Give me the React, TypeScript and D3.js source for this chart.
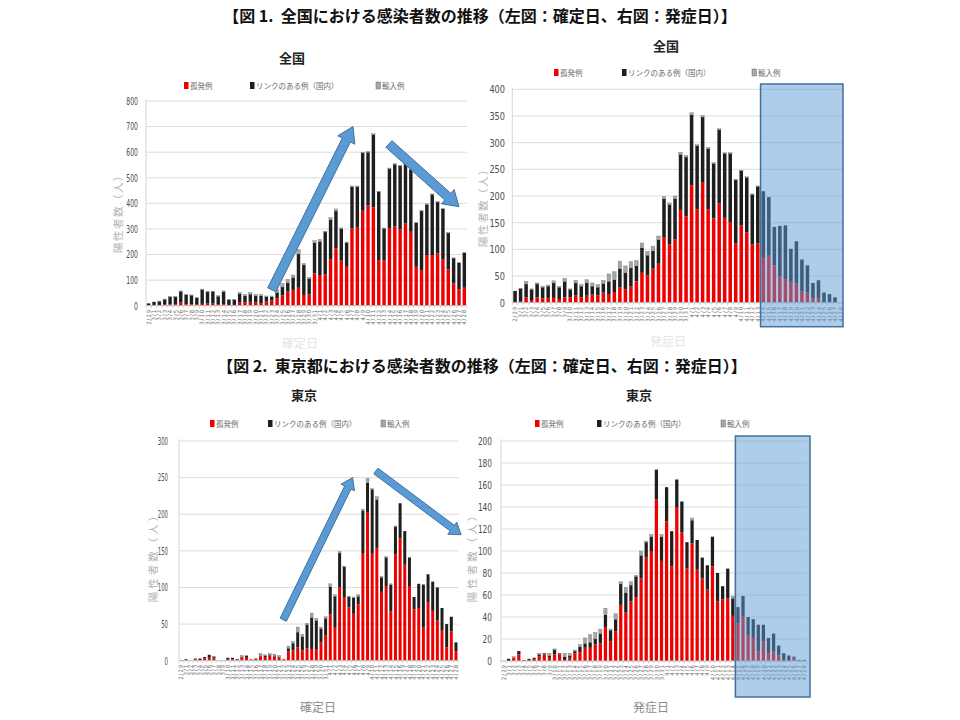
import React from 'react';
import * as d3 from 'd3';

// Data: 2/29 - 4/28 (60 days)

const dates: string[] = d3.timeDay
    .range(new Date(2020, 1, 29), new Date(2020, 3, 29))
    .map(d3.timeFormat('%-m/%-d'));

const seriesNames = ['孤発例', 'リンクのある例（国内）', '輸入例'];
const seriesColors = ['#EE0000', '#1E1E1E', '#A6A6A6'];

// 全国・確定日
const zenkokuKakuteiSolo = [2, 3, 3, 4, 5, 5, 14, 5, 5, 4, 7, 8, 8, 4, 6, 3, 3, 14, 12, 15, 12, 10, 16, 20, 28, 40, 55, 62, 70, 42, 44, 126, 120, 122, 182, 224, 176, 152, 302, 305, 371, 393, 384, 178, 178, 302, 309, 298, 321, 289, 152, 139, 198, 198, 204, 182, 142, 87, 64, 70];
const zenkokuKakuteiLinked = [7, 12, 14, 21, 29, 29, 42, 38, 36, 27, 56, 47, 48, 33, 49, 21, 21, 33, 27, 30, 26, 29, 19, 15, 24, 33, 34, 48, 132, 117, 62, 120, 131, 166, 154, 146, 125, 95, 163, 160, 226, 207, 285, 267, 124, 234, 244, 248, 232, 242, 172, 231, 198, 237, 201, 197, 142, 99, 104, 137];
const zenkokuKakuteiImport = [0, 0, 1, 1, 1, 1, 2, 1, 1, 1, 2, 2, 1, 2, 3, 1, 1, 5, 5, 6, 6, 5, 3, 3, 12, 14, 14, 10, 18, 6, 4, 8, 8, 3, 8, 8, 3, 2, 3, 3, 3, 3, 3, 2, 2, 2, 2, 2, 2, 2, 2, 2, 2, 2, 2, 2, 1, 1, 1, 1];

// 全国・発症日
const zenkokuHasshoSolo = [0, 2, 10, 5, 10, 8, 9, 9, 7, 10, 10, 14, 10, 13, 15, 14, 19, 15, 20, 29, 25, 31, 40, 56, 51, 64, 73, 123, 109, 119, 174, 162, 220, 175, 225, 175, 158, 186, 159, 151, 111, 145, 132, 109, 111, 84, 88, 70, 49, 44, 39, 36, 21, 19, 8, 9, 0, 0, 0, 0];
const zenkokuHasshoLinked = [22, 24, 25, 20, 25, 21, 22, 28, 22, 30, 15, 23, 21, 24, 16, 15, 17, 25, 23, 35, 31, 34, 29, 47, 38, 33, 45, 72, 75, 76, 104, 111, 132, 119, 123, 114, 103, 138, 121, 129, 119, 102, 103, 94, 107, 125, 110, 72, 95, 101, 62, 79, 60, 51, 29, 33, 19, 16, 10, 0];
const zenkokuHasshoImport = [0, 1, 5, 1, 2, 2, 2, 4, 2, 6, 1, 5, 3, 6, 6, 5, 6, 14, 15, 14, 13, 12, 10, 9, 7, 9, 7, 4, 3, 5, 4, 3, 4, 2, 3, 2, 2, 2, 1, 1, 1, 1, 1, 1, 1, 0, 0, 0, 0, 0, 0, 0, 0, 0, 0, 0, 0, 0, 0, 0];

// 東京・確定日
const tokyoKakuteiSolo = [1, 1, 0, 2, 1, 3, 4, 3, 0, 0, 2, 2, 1, 4, 5, 2, 2, 6, 5, 7, 6, 4, 2, 13, 14, 18, 14, 17, 16, 15, 25, 35, 63, 46, 100, 86, 73, 64, 77, 147, 202, 146, 154, 94, 102, 67, 145, 167, 131, 102, 70, 72, 45, 80, 68, 55, 41, 18, 40, 13];
const tokyoKakuteiLinked = [0, 1, 0, 1, 2, 2, 4, 2, 0, 0, 2, 2, 1, 1, 2, 0, 1, 1, 2, 1, 1, 1, 0, 4, 10, 21, 19, 32, 43, 40, 19, 23, 38, 42, 47, 42, 14, 22, 11, 58, 41, 88, 66, 20, 39, 37, 38, 48, 46, 39, 17, 33, 59, 38, 40, 45, 31, 32, 20, 12];
const tokyoKakuteiImport = [0, 0, 0, 0, 0, 0, 0, 1, 0, 0, 0, 0, 0, 2, 0, 0, 0, 3, 1, 2, 2, 2, 0, 3, 2, 7, 3, 2, 6, 3, 2, 2, 4, 2, 2, 1, 1, 1, 2, 2, 6, 1, 4, 1, 1, 1, 1, 0, 0, 0, 0, 0, 0, 0, 0, 0, 0, 0, 0, 0];

// 東京・発症日
const tokyoHasshoSolo = [0, 0, 3, 6, 1, 1, 2, 4, 6, 3, 6, 6, 1, 3, 7, 8, 12, 12, 15, 16, 31, 18, 27, 51, 44, 54, 58, 75, 94, 100, 147, 91, 127, 86, 140, 117, 84, 107, 83, 75, 65, 86, 54, 56, 57, 41, 34, 41, 23, 21, 9, 18, 7, 9, 5, 0, 0, 3, 0, 0];
const tokyoHasshoLinked = [0, 2, 0, 3, 0, 1, 1, 2, 1, 2, 4, 1, 3, 2, 2, 5, 4, 5, 5, 9, 11, 10, 11, 19, 18, 15, 19, 21, 14, 13, 27, 22, 31, 32, 25, 28, 24, 21, 27, 19, 22, 27, 26, 12, 27, 16, 15, 18, 17, 17, 24, 15, 14, 16, 9, 7, 5, 1, 1, 1];
const tokyoHasshoImport = [0, 0, 1, 0, 0, 0, 0, 1, 0, 2, 1, 0, 3, 2, 1, 2, 5, 7, 6, 4, 6, 1, 5, 2, 5, 3, 1, 4, 1, 2, 0, 2, 0, 0, 0, 0, 0, 2, 0, 0, 0, 0, 0, 0, 0, 2, 0, 0, 0, 0, 0, 0, 0, 0, 0, 0, 0, 0, 0, 0];

// annotation arrows in data coordinates: [date index, value]
type Arrow = { from: [number, number]; to: [number, number]; shaft: number; head: number; headLen: number };

type Panel = {
    title: string; titleX: number; titleY: number;
    series: number[][];
    x0: number; x1: number; y0: number; y1: number; yMax: number; yStep: number;
    tickX: number; digitW: number;
    yTitleX: number; yTitleY: number; yTitleSpacing: number;
    legendX: number[]; legendY: number;
    xTitle: string; xTitleX: number; xTitleY: number; xTitleColor: string;
    arrows?: Arrow[];
    shade?: { fromIndex: number; topValue: number; below: number; right: number };
};

const panels: Panel[] = [
    {
        title: '全国', titleX: 292, titleY: 63,
        series: [zenkokuKakuteiSolo, zenkokuKakuteiLinked, zenkokuKakuteiImport],
        x0: 146, x1: 467, y0: 305.7, y1: 101, yMax: 800, yStep: 100,
        tickX: 138, digitW: 3.9,
        yTitleX: 118, yTitleY: 211, yTitleSpacing: 1.5,
        legendX: [186, 252, 378], legendY: 88,
        xTitle: '確定日', xTitleX: 300, xTitleY: 348, xTitleColor: '#E4E4E4',
        arrows: [
            { from: [23, 62], to: [38.2, 700], shaft: 9, head: 19, headLen: 15 },
            { from: [44.9, 632], to: [58, 387], shaft: 9, head: 19, headLen: 15 },
        ],
    },
    {
        title: '全国', titleX: 666, titleY: 51,
        series: [zenkokuHasshoSolo, zenkokuHasshoLinked, zenkokuHasshoImport],
        x0: 512.3, x1: 843.3, y0: 302.7, y1: 89.3, yMax: 400, yStep: 50,
        tickX: 505, digitW: 5.2,
        yTitleX: 483, yTitleY: 205, yTitleSpacing: 1.5,
        legendX: [556, 624, 754], legendY: 75,
        xTitle: '発症日', xTitleX: 668, xTitleY: 346, xTitleColor: '#E4E4E4',
        shade: { fromIndex: 45, topValue: 410, below: 24, right: 843 },
    },
    {
        title: '東京', titleX: 304, titleY: 400,
        series: [tokyoKakuteiSolo, tokyoKakuteiLinked, tokyoKakuteiImport],
        x0: 179, x1: 458.3, y0: 660.7, y1: 441, yMax: 300, yStep: 50,
        tickX: 168, digitW: 3.4,
        yTitleX: 153, yTitleY: 555, yTitleSpacing: 3,
        legendX: [212, 270, 383], legendY: 426,
        xTitle: '確定日', xTitleX: 318, xTitleY: 712, xTitleColor: '#8C8C8C',
        arrows: [
            { from: [21.9, 56], to: [36.8, 250], shaft: 7, head: 15, headLen: 11 },
            { from: [41.8, 259], to: [60.1, 172], shaft: 7, head: 15, headLen: 11 },
        ],
    },
    {
        title: '東京', titleX: 639, titleY: 400,
        series: [tokyoHasshoSolo, tokyoHasshoLinked, tokyoHasshoImport],
        x0: 501, x1: 806.7, y0: 661, y1: 441, yMax: 200, yStep: 20,
        tickX: 492, digitW: 4.7,
        yTitleX: 472, yTitleY: 555, yTitleSpacing: 3,
        legendX: [537, 599, 723], legendY: 426,
        xTitle: '発症日', xTitleX: 651, xTitleY: 712, xTitleColor: '#8C8C8C',
        shade: { fromIndex: 46, topValue: 204.5, below: 36, right: 810 },
    },
];

const jpFont = '"Noto Sans CJK JP", "Noto Sans", sans-serif';
const numFont = '"Liberation Sans Narrow", "DejaVu Sans Condensed", "Liberation Sans", sans-serif';

type Row = { date: string; solo: number; linked: number; imported: number };

function arrowPath(x1: number, y1: number, x2: number, y2: number, shaft: number, head: number, headLen: number) {
    const dx = x2 - x1, dy = y2 - y1;
    const L = Math.hypot(dx, dy);
    const ux = dx / L, uy = dy / L;
    const nx = -uy, ny = ux;
    const bx = x2 - ux * headLen, by = y2 - uy * headLen;
    const pts: [number, number][] = [
        [x1 + nx * shaft / 2, y1 + ny * shaft / 2],
        [bx + nx * shaft / 2, by + ny * shaft / 2],
        [bx + nx * head / 2, by + ny * head / 2],
        [x2, y2],
        [bx - nx * head / 2, by - ny * head / 2],
        [bx - nx * shaft / 2, by - ny * shaft / 2],
        [x1 - nx * shaft / 2, y1 - ny * shaft / 2],
    ];
    return 'M' + pts.map((p) => p.join(',')).join('L') + 'Z';
}

function drawPanel(svg: d3.Selection<SVGSVGElement, unknown, null, undefined>, p: Panel) {
    const g = svg.append('g');

    const x = d3.scaleBand<string>().domain(dates).range([p.x0, p.x1]).paddingInner(0.36).paddingOuter(0.18);
    const y = d3.scaleLinear().domain([0, p.yMax]).range([p.y0, p.y1]);
    const step = x.step();
    const xi = (i: number) => p.x0 + step * (i + 0.5);

    // title
    g.append('text')
        .attr('x', p.titleX).attr('y', p.titleY)
        .attr('text-anchor', 'middle')
        .attr('font-family', jpFont).attr('font-weight', 'bold').attr('font-size', 13)
        .attr('fill', '#222')
        .text(p.title);

    // legend
    seriesNames.forEach((name, k) => {
        const lg = g.append('g').attr('transform', `translate(${p.legendX[k]},${p.legendY})`);
        lg.append('rect').attr('x', -2).attr('y', -6).attr('width', 4.5).attr('height', 7)
            .attr('fill', seriesColors[k]).attr('stroke', k === 2 ? '#707070' : 'none').attr('stroke-width', 0.5);
        lg.append('text').attr('x', 4).attr('y', 0.5)
            .attr('font-family', jpFont).attr('font-size', 7.5).attr('fill', '#6A6A6A')
            .text(name);
    });

    // gridlines + y ticks
    const ticks = d3.range(0, p.yMax + 0.001, p.yStep);
    g.append('g').selectAll('line').data(ticks.filter((t) => t > 0)).join('line')
        .attr('x1', p.x0).attr('x2', p.x1)
        .attr('y1', (d) => y(d)).attr('y2', (d) => y(d))
        .attr('stroke', '#DCDCDC').attr('stroke-width', 1);
    g.append('g').selectAll('text').data(ticks).join('text')
        .attr('x', p.tickX).attr('y', (d) => y(d)).attr('dy', '0.35em')
        .attr('text-anchor', 'end')
        .attr('font-family', numFont).attr('font-size', 11).attr('fill', '#4D4D4D')
        .attr('textLength', (d) => String(d).length * p.digitW)
        .attr('lengthAdjust', 'spacingAndGlyphs')
        .text((d) => String(d));

    // y axis line
    g.append('line').attr('x1', p.x0).attr('x2', p.x0).attr('y1', p.y1 - 2).attr('y2', p.y0)
        .attr('stroke', '#D6D6D6');

    // y title
    g.append('text')
        .attr('transform', `translate(${p.yTitleX},${p.yTitleY}) rotate(-90)`)
        .attr('text-anchor', 'middle').attr('dy', '0.35em')
        .attr('font-family', jpFont).attr('font-size', 10.5).attr('letter-spacing', p.yTitleSpacing)
        .attr('fill', '#B3B3B3')
        .text('陽性者数（人）');

    // stacked bars
    const rows: Row[] = dates.map((d, i) => ({ date: d, solo: p.series[0][i], linked: p.series[1][i], imported: p.series[2][i] }));
    const stack = d3.stack<Row>().keys(['solo', 'linked', 'imported']);
    const layers = stack(rows);
    g.append('g').selectAll('g').data(layers).join('g')
        .attr('fill', (_, k) => seriesColors[k])
        .attr('stroke', (_, k) => (k === 2 ? '#7A7A7A' : 'none'))
        .attr('stroke-width', 0.4)
        .selectAll('rect').data((d) => d.filter((s) => s[1] - s[0] > 0)).join('rect')
        .attr('x', (d) => x(d.data.date)!)
        .attr('width', x.bandwidth())
        .attr('y', (d) => y(d[1]))
        .attr('height', (d) => y(d[0]) - y(d[1]));

    // x axis line + ticks
    g.append('line').attr('x1', p.x0).attr('x2', p.x1).attr('y1', p.y0).attr('y2', p.y0)
        .attr('stroke', '#BFBFBF');
    g.append('g').selectAll('line').data(d3.range(dates.length + 1)).join('line')
        .attr('x1', (i) => p.x0 + step * i).attr('x2', (i) => p.x0 + step * i)
        .attr('y1', p.y0).attr('y2', p.y0 + 2.5)
        .attr('stroke', '#BFBFBF').attr('stroke-width', 0.6);

    // x labels
    g.append('g').selectAll('text').data(dates).join('text')
        .attr('transform', (d) => `translate(${x(d)! + x.bandwidth() / 2},${p.y0 + 3}) rotate(-90)`)
        .attr('text-anchor', 'end').attr('dy', '0.35em')
        .attr('font-family', numFont).attr('font-size', 6).attr('letter-spacing', 1)
        .attr('fill', '#6E6E6E')
        .text((d) => d);

    // x title
    g.append('text')
        .attr('x', p.xTitleX).attr('y', p.xTitleY)
        .attr('text-anchor', 'middle')
        .attr('font-family', jpFont).attr('font-size', 12)
        .attr('fill', p.xTitleColor)
        .text(p.xTitle);

    // shaded box
    if (p.shade) {
        const sx = p.x0 + step * p.shade.fromIndex;
        g.append('rect')
            .attr('x', sx).attr('y', y(p.shade.topValue))
            .attr('width', p.shade.right - sx)
            .attr('height', p.y0 + p.shade.below - y(p.shade.topValue))
            .attr('fill', 'rgba(91,155,213,0.5)')
            .attr('stroke', '#41719C').attr('stroke-width', 1.5);
    }

    // arrows
    (p.arrows || []).forEach((a) => {
        g.append('path')
            .attr('d', arrowPath(xi(a.from[0]), y(a.from[1]), xi(a.to[0]), y(a.to[1]), a.shaft, a.head, a.headLen))
            .attr('fill', '#5B9BD5').attr('stroke', '#41719C').attr('stroke-width', 1);
    });
}

function CovidCharts() {
    const ref = React.useRef<SVGSVGElement>(null);

    React.useEffect(() => {
        const svg = d3.select(ref.current!);
        svg.selectAll('*').remove();

        svg.append('rect').attr('width', 960).attr('height', 720).attr('fill', '#fff');

        // headings
        svg.append('text')
            .attr('x', 480).attr('y', 22).attr('text-anchor', 'middle')
            .attr('font-family', jpFont).attr('font-weight', 'bold').attr('font-size', 16).attr('fill', '#111')
            .text('【図 1.\u00A0\u00A0全国における感染者数の推移（左図：確定日、右図：発症日）】');
        svg.append('text')
            .attr('x', 482).attr('y', 372).attr('text-anchor', 'middle')
            .attr('font-family', jpFont).attr('font-weight', 'bold').attr('font-size', 16).attr('fill', '#111')
            .text('【図 2.\u00A0\u00A0東京都における感染者数の推移（左図：確定日、右図：発症日）】');

        panels.forEach((p) => drawPanel(svg, p));
    }, []);

    return (
        <div style={{ position: 'absolute', left: 0, top: 0 }}>
            <svg ref={ref} width={960} height={720} style={{ display: 'block' }} />
        </div>
    );
}

export default function App() {
    return <CovidCharts />;
}
